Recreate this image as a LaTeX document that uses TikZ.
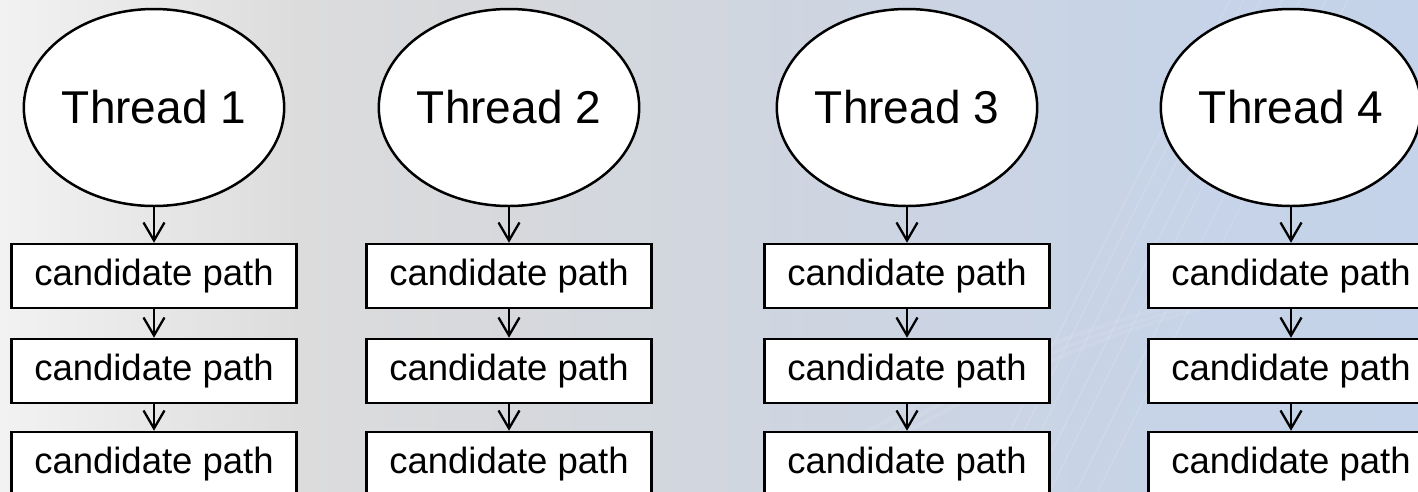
\documentclass[tikz,border=0pt]{standalone}
\usepackage{fontspec}
\setmainfont{Liberation Sans}
\usetikzlibrary{shapes.geometric,arrows.meta}

\definecolor{bgA}{RGB}{242,242,242}
\definecolor{bgB}{RGB}{220,220,221}
\definecolor{bgC}{RGB}{214,216,220}
\definecolor{bgD}{RGB}{206,213,225}
\definecolor{bgE}{RGB}{199,211,231}
\definecolor{bgF}{RGB}{196,211,234}

\tikzset{
  thread/.style={ellipse, draw=black, line width=2.5pt, fill=white,
    minimum width=228pt, minimum height=197pt, inner sep=0pt,
    font=\fontsize{46}{50}\selectfont},
  cand/.style={rectangle, draw=black, line width=2.5pt, fill=white,
    minimum width=285pt, minimum height=64pt, inner sep=0pt,
    font=\fontsize{36.5}{40}\selectfont},
  flow/.style={line width=2.3pt, -{Straight Barb[length=18pt,width=21pt,line width=2.3pt]}},
  streak/.style={white, opacity=0.12, line width=1.5pt}
}

\begin{document}
\begin{tikzpicture}[x=1pt,y=-1pt]
  \useasboundingbox (0,0) rectangle (1418,491);
  \clip (0,0) rectangle (1418,491);

  % background: grey on the left fading into pale blue on the right
  \shade[left color=bgA, right color=bgB] (0,0) rectangle (300,491);
  \shade[left color=bgB, right color=bgC] (299.5,0) rectangle (520,491);
  \shade[left color=bgC, right color=bgD] (519.5,0) rectangle (820,491);
  \shade[left color=bgD, right color=bgE] (819.5,0) rectangle (1150,491);
  \shade[left color=bgE, right color=bgF] (1149.5,0) rectangle (1418,491);

  % faint light streaks
  \foreach \s in {0,14,31,52,70,96,118} {
    \draw[streak] (980+\s,491) .. controls (1060+\s,330) and (1150+\s,150) .. (1230+\s,0);
  }
  \foreach \s in {0,22,40} {
    \draw[streak, line width=4pt, opacity=0.08] (760+\s,491) .. controls (900+\s,410) and (1050+\s,330) .. (1200+\s,300);
  }

  % columns: thread ellipse followed by three candidate paths
  \foreach \i/\cx in {1/154, 2/509, 3/907, 4/1291} {
    \node[thread] (t\i) at (\cx,107.5) {Thread \i};
    \node[cand] (a\i) at (\cx,276) {candidate path};
    \node[cand] (b\i) at (\cx,371) {candidate path};
    \node[cand] (c\i) at (\cx,464) {candidate path};
    \draw[flow] (t\i.south) -- (a\i.north);
    \draw[flow] (a\i.south) -- (b\i.north);
    \draw[flow] (b\i.south) -- (c\i.north);
  }
\end{tikzpicture}
\end{document}
